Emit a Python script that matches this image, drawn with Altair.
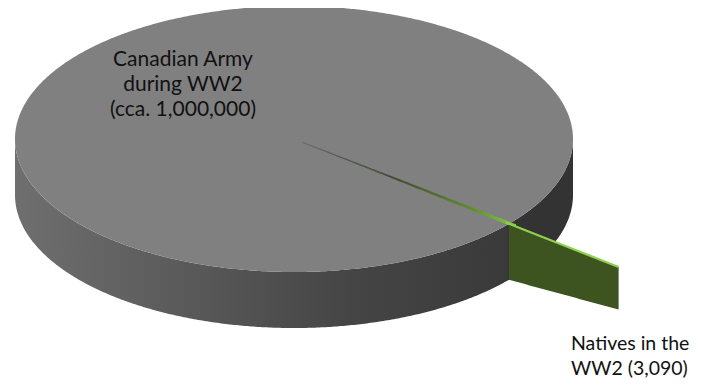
import altair as alt
import numpy as np
import pandas as pd

# ---- data ----
categories = ["Canadian Army during WW2", "Natives in the WW2"]
values = [1000000, 3090]
label_lines = [["Canadian Army", "during WW2", "(cca. 1,000,000)"],
               ["Natives in the", "WW2 (3,090)"]]

# ---- layout / style (pixel-like data space) ----
CX, CY, A, B, DEPTH = 294.0, 139.0, 279.0, 133.0, 56.0
MID_DEG = 39.6          # direction of the small slice (clockwise from 3 o'clock)
EXPLODE = 0.04
FACE_OUT = 1.51         # extent of the visible cut face of the small slice
FACE_FAR_DEPTH = 0.76   # perspective shrink of the cut face
label_pos = [(183, 60, "center", 21), (571, 344, "left", 19.5)]
LINE_GAP = 25

total = sum(values)
small_frac = values[1] / total
half_w = np.radians(small_frac * 360.0) / 2.0
mid = np.radians(MID_DEG)

# top face & side band
t = np.linspace(np.pi, 0, 400)
ex = CX + A * np.cos(t)
top_df = pd.DataFrame({"x": ex, "y": CY - B * np.sin(t), "y2": CY + B * np.sin(t)})
side_df = pd.DataFrame({"x": ex, "y": CY + B * np.sin(t), "y2": CY + B * np.sin(t) + DEPTH})

# small slice wedge on the top face
ox, oy = EXPLODE * A * np.cos(mid), EXPLODE * B * np.sin(mid)
apx, apy = CX + ox, CY + oy
r1 = (CX + A * np.cos(mid - half_w) + ox, CY + B * np.sin(mid - half_w) + oy)
r2 = (CX + A * np.cos(mid + half_w) + ox, CY + B * np.sin(mid + half_w) + oy)
xe = min(r1[0], r2[0])
wx = np.linspace(apx, xe, 60)
s1 = (r1[1] - apy) / (r1[0] - apx)
s2 = (r2[1] - apy) / (r2[0] - apx)
wedge_df = pd.DataFrame({"x": wx, "y": apy + s1 * (wx - apx), "y2": apy + s2 * (wx - apx)})

# cut face of the small slice
rx, ry = CX + A * np.cos(mid), CY + B * np.sin(mid)
fx, fy = CX + FACE_OUT * A * np.cos(mid), CY + FACE_OUT * B * np.sin(mid)
fxs = np.linspace(rx, fx, 40)
frac = (fxs - rx) / (fx - rx)
ftop = ry + (fy - ry) * frac
fdep = DEPTH * (1 - (1 - FACE_FAR_DEPTH) * frac)
face_df = pd.DataFrame({"x": fxs, "y": ftop, "y2": ftop + fdep})
edge_df = pd.DataFrame({"x": [rx - 3, fx], "y": [ry - 3 * (fy - ry) / (fx - rx), fy]})

rows = []
for (px, py, al, fs), lines, cat in zip(label_pos, label_lines, categories):
    for i, ln in enumerate(lines):
        rows.append({"x": px, "y": py + i * LINE_GAP, "text": ln, "align": al, "cat": cat})
text_df = pd.DataFrame(rows)

xs = alt.Scale(domain=[8, 694], zero=False, nice=False)
ys = alt.Scale(domain=[8, 379], zero=False, nice=False, reverse=True)
X = alt.X("x:Q", scale=xs, axis=None)
Y = alt.Y("y:Q", scale=ys, axis=None)
Y2 = alt.Y2("y2:Q")


def grad(stops, x2=1, y2=0):
    return alt.LinearGradient(gradient="linear", x1=0, y1=0, x2=x2, y2=y2,
                              stops=[alt.GradientStop(color=c, offset=o) for o, c in stops])


side = alt.Chart(side_df).mark_area(
    color=grad([(0, "#6f6f6f"), (0.33, "#585858"), (0.6, "#454545"),
                (0.88, "#3a3a3a"), (0.886, "#333333"), (1, "#333333")])
).encode(x=X, y=Y, y2=Y2)

top = alt.Chart(top_df).mark_area(color="#808080").encode(x=X, y=Y, y2=Y2)

wedge = alt.Chart(wedge_df).mark_area(
    color=grad([(0, "#5a5a5a"), (0.45, "#44552f"), (0.8, "#5f8f30"), (1, "#86c946")])
).encode(x=X, y=Y, y2=Y2)

wedge_line = alt.Chart(wedge_df).mark_line(
    stroke=grad([(0, "#6a6a6a"), (0.45, "#3e4a30"), (0.8, "#5f8f30"), (1, "#86c946")]),
    strokeWidth=1.2
).encode(x=X, y=Y)

face = alt.Chart(face_df).mark_area(color="#3d5421").encode(x=X, y=Y, y2=Y2)
edge = alt.Chart(edge_df).mark_line(color="#8fd14f", strokeWidth=2.2).encode(x=X, y=Y)

left_txt = alt.Chart(text_df[text_df["align"] == "center"]).mark_text(
    align="center", baseline="middle", font="Lato", fontSize=label_pos[0][3], color="#111111"
).encode(x=X, y=Y, text="text:N")
right_txt = alt.Chart(text_df[text_df["align"] == "left"]).mark_text(
    align="left", baseline="middle", font="Lato", fontSize=label_pos[1][3], color="#111111"
).encode(x=X, y=Y, text="text:N")

chart = alt.layer(side, top, wedge, wedge_line, face, edge, left_txt, right_txt).properties(
    width=686, height=371, padding=0, autosize=alt.AutoSizeParams(type="none"),
    background="white"
).configure_view(stroke=None)

chart.save("out.html", embed_options={"renderer": "svg", "actions": False})
